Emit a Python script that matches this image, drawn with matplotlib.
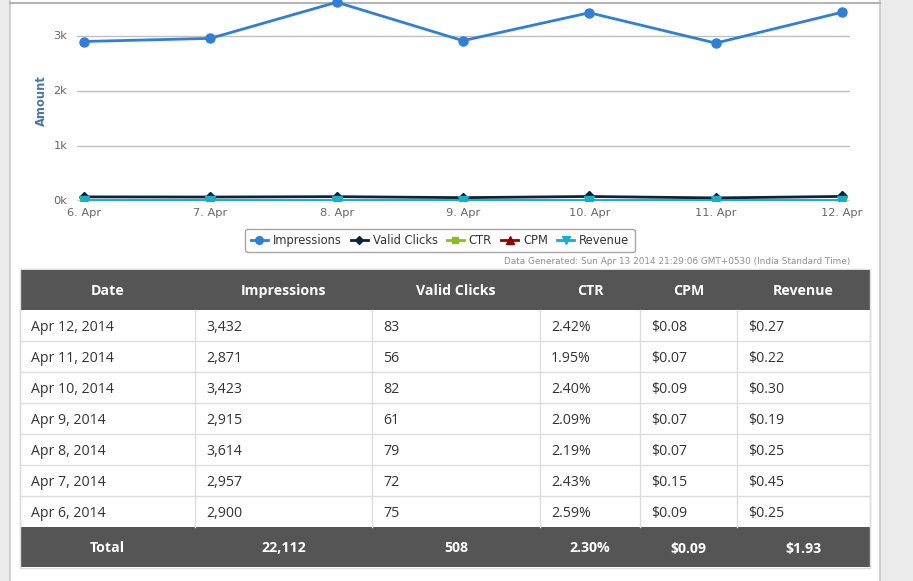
import matplotlib
matplotlib.use("Agg")
import matplotlib.pyplot as plt
from matplotlib.patches import Rectangle
from matplotlib.lines import Line2D
from matplotlib.font_manager import FontProperties

# ---------------- data ----------------
dates_axis = ["6. Apr", "7. Apr", "8. Apr", "9. Apr", "10. Apr", "11. Apr", "12. Apr"]
impressions = [2900, 2957, 3614, 2915, 3423, 2871, 3432]
valid_clicks = [75, 72, 79, 61, 82, 56, 83]
ctr = [2.59, 2.43, 2.19, 2.09, 2.40, 1.95, 2.42]
cpm = [0.09, 0.15, 0.07, 0.07, 0.09, 0.07, 0.08]
revenue = [0.25, 0.45, 0.25, 0.19, 0.30, 0.22, 0.27]
y_ticks = [0, 1000, 2000, 3000]
y_tick_labels = ["0k", "1k", "2k", "3k"]

table_columns = ["Date", "Impressions", "Valid Clicks", "CTR", "CPM", "Revenue"]
table_dates = ["Apr 12, 2014", "Apr 11, 2014", "Apr 10, 2014", "Apr 9, 2014",
               "Apr 8, 2014", "Apr 7, 2014", "Apr 6, 2014"]
table_impr = ["3,432", "2,871", "3,423", "2,915", "3,614", "2,957", "2,900"]
table_clicks = ["83", "56", "82", "61", "79", "72", "75"]
table_ctr = ["2.42%", "1.95%", "2.40%", "2.09%", "2.19%", "2.43%", "2.59%"]
table_cpm = ["$0.08", "$0.07", "$0.09", "$0.07", "$0.07", "$0.15", "$0.09"]
table_rev = ["$0.27", "$0.22", "$0.30", "$0.19", "$0.25", "$0.45", "$0.25"]
totals = ["Total", "22,112", "508", "2.30%", "$0.09", "$1.93"]
generated = "Data Generated: Sun Apr 13 2014 21:29:06 GMT+0530 (India Standard Time)"

# ---------------- figure ----------------
W, H = 913, 581
fig = plt.figure(figsize=(W / 100, H / 100), dpi=100)
fig.patch.set_facecolor("white")
plt.rcParams['font.family'] = ['Open Sans', 'DejaVu Sans']
chart_font = ['DejaVu Sans']

# background / page axes in pixel coords
bg = fig.add_axes([0, 0, 1, 1], zorder=0)
bg.set_xlim(0, W)
bg.set_ylim(H, 0)
bg.axis("off")
bg.add_patch(Rectangle((0, 0), 9.5, H, facecolor="#ebebeb", edgecolor="none"))
bg.add_patch(Rectangle((880, 0), W - 880, H, facecolor="#ebebeb", edgecolor="none"))
bg.plot([9.5, 9.5], [0, H], color="#c8c8c8", lw=1.2)
bg.plot([880, 880], [0, H], color="#c8c8c8", lw=1.2)
bg.plot([9.5, 880], [2.5, 2.5], color="#b4b4b4", lw=1.5)
bg.plot([20, 870], [268.5, 268.5], color="#dddddd", lw=1)

# ---------------- chart ----------------
px_l, px_r, px_t, px_b = 77, 850, 0, 201
ax = fig.add_axes([px_l / W, 1 - px_b / H, (px_r - px_l) / W, (px_b - px_t) / H], zorder=2)
ax.patch.set_alpha(0)
step = (842 - 84) / 6
ax.set_xlim(-(84 - px_l) / step, 6 + (px_r - 842) / step)
ax.set_ylim(0, 201 / 55 * 1000)
x = list(range(len(dates_axis)))

for yv in y_ticks[1:]:
    ax.axhline(yv, color="#c0c0c0", lw=1, zorder=1)
ax.axhline(0, color="#c0d0e0", lw=1.2, zorder=1)

series = [
    ("Impressions", impressions, "#2f7ed8", "o", 6.5),
    ("Valid Clicks", valid_clicks, "#0d233a", "D", 5.5),
    ("CTR", ctr, "#8bbc21", "s", 6),
    ("CPM", cpm, "#910000", "^", 6.5),
    ("Revenue", revenue, "#1aadce", "v", 6.5),
]
handles = []
for name, vals, col, mk, ms in series:
    ax.plot(x, vals, color=col, lw=2, marker=mk, markersize=ms, zorder=3, clip_on=True)
    handles.append(Line2D([], [], color=col, lw=2, marker=mk, markersize=ms - 1))

for s in ax.spines.values():
    s.set_visible(False)
ax.set_xticks(x)
ax.set_xticklabels(dates_axis, family=chart_font)
ax.set_yticks(y_ticks)
ax.set_yticklabels(y_tick_labels, family=chart_font)
ax.tick_params(axis="both", length=0, labelsize=8.2, colors="#666666")
ax.tick_params(axis="x", pad=5)
ax.tick_params(axis="y", pad=7)
for lab in ax.get_yticklabels():
    lab.set_verticalalignment("center")
ax.set_ylabel("Amount", fontsize=8.3, fontweight="bold", color="#4d759e", labelpad=4,
              family=chart_font)

leg = fig.legend(handles, [s[0] for s in series], loc="center",
                 bbox_to_anchor=(440 / W, 1 - 240.5 / H), ncol=5, frameon=True,
                 prop=FontProperties(family='DejaVu Sans', size=8.3),
                 handlelength=1.5, handletextpad=0.4, columnspacing=0.8,
                 borderpad=0.45, fancybox=True, labelcolor="#333333")
leg.get_frame().set_edgecolor("#909090")
leg.get_frame().set_linewidth(1)

bg.text(850, 261, generated, ha="right", va="center", fontsize=6.4, color="#909090",
        family=chart_font)

# ---------------- table ----------------
tb = fig.add_axes([0, 0, 1, 1], zorder=3)
tb.set_xlim(0, W)
tb.set_ylim(H, 0)
tb.axis("off")
tb.patch.set_alpha(0)

col_edges = [20, 195, 372, 540, 640, 737, 870]
header_top, header_bot = 270, 310
row_h = 31
body_cols = [table_dates, table_impr, table_clicks, table_ctr, table_cpm, table_rev]
n_rows = len(table_dates)
body_bot = header_bot + n_rows * row_h
total_bot = body_bot + 40
dark = "#555555"
grid = "#dddddd"

tb.add_patch(Rectangle((col_edges[0], header_top), col_edges[-1] - col_edges[0],
                       header_bot - header_top, facecolor=dark, edgecolor="none"))
tb.add_patch(Rectangle((col_edges[0], body_bot), col_edges[-1] - col_edges[0],
                       total_bot - body_bot, facecolor=dark, edgecolor="none"))
for i, name in enumerate(table_columns):
    cx = (col_edges[i] + col_edges[i + 1]) / 2
    tb.text(cx, (header_top + header_bot) / 2 + 5, name, ha="center", va="baseline",
            fontsize=10.2, fontweight="bold", color="white")
    tb.text(cx, (body_bot + total_bot) / 2 + 5.5, totals[i], ha="center", va="baseline",
            fontsize=10.2, fontweight="bold", color="white")

# grid lines
for r in range(1, n_rows):
    yy = header_bot + r * row_h
    tb.plot([col_edges[0], col_edges[-1]], [yy, yy], color=grid, lw=1)
for xe in col_edges:
    tb.plot([xe, xe], [header_bot, body_bot], color=grid, lw=1)
tb.plot([col_edges[0], col_edges[0]], [header_top, total_bot], color=grid, lw=1)
tb.plot([col_edges[-1], col_edges[-1]], [header_top, total_bot], color=grid, lw=1)
tb.plot([col_edges[0], col_edges[-1]], [total_bot + 0.5, total_bot + 0.5], color=grid, lw=1)

for c, colvals in enumerate(body_cols):
    for r, val in enumerate(colvals):
        yy = header_bot + r * row_h + row_h / 2 + 5.5
        tb.text(col_edges[c] + 11, yy, val, ha="left", va="baseline",
                fontsize=10.2, color="#333333")

fig.savefig("out.png", dpi=100, facecolor="white")
